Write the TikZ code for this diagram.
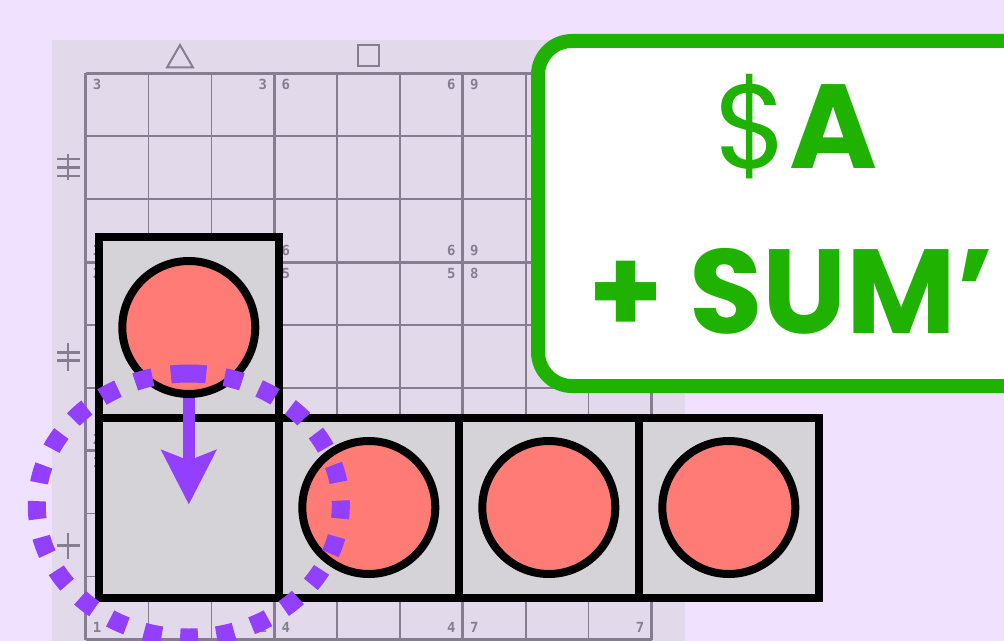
\documentclass[tikz,border=0pt]{standalone}
\usepackage{fontspec}
\setmainfont{Poppins}
\newfontfamily\digitfont{DejaVu Sans Mono}
\usepackage{tikz}
\usetikzlibrary{arrows.meta, positioning, shapes.geometric}

\definecolor{bgviolet}{HTML}{EFE1FF}
\definecolor{panelgray}{HTML}{E2DAEA}
\definecolor{gridgray}{HTML}{877D91}
\definecolor{boxgray}{HTML}{D5D3D7}
\definecolor{tokenred}{HTML}{FF7B76}
\definecolor{movepurple}{HTML}{923FFF}
\definecolor{sumgreen}{HTML}{1FB200}

\begin{document}
\begin{tikzpicture}[
    x=1bp, y=-1bp,
    >=Stealth,
    gridline/.style={draw=gridgray, line width=1.5bp},
    blockline/.style={draw=gridgray, line width=3bp},
    corner/.style={font=\digitfont\bfseries\fontsize{14}{14}\selectfont, text=gridgray, inner sep=0pt},
    colsym/.style={draw=gridgray, line width=2bp, inner sep=0pt},
    rowtick/.style={draw=gridgray, line width=2.5bp},
    cellbox/.style={draw=black, fill=boxgray, line width=8bp, minimum size=180bp, inner sep=0pt, outer sep=0pt},
    token/.style={circle, draw=black, fill=tokenred, line width=8bp, minimum size=133bp, inner sep=0pt},
    move/.style={-{Stealth[length=54bp, width=54bp, inset=10bp]}, draw=movepurple, line width=12bp},
    sweep/.style={draw=movepurple, line width=18bp, dash pattern=on 18bp off 18.5bp},
    callout/.style={draw=sumgreen, fill=white, line width=14bp, rounded corners=34bp, minimum width=540bp, minimum height=345bp, inner sep=0pt, outer sep=0pt},
    sumtext/.style={text=sumgreen, font=\fontsize{120}{120}\selectfont, inner sep=0pt},
  ]
  \useasboundingbox (0,0) rectangle (1004,641);
  \clip (0,0) rectangle (1004,641);
  \fill[bgviolet] (0,0) rectangle (1004,641);
  \fill[panelgray] (52,40) rectangle (685,675);
  % grid and block numbers
  \begin{scope}[shift={(85.5,73.3)}]
    \draw[gridline] (0,0) grid[step=62.9bp] (566.2,566.2);
    \draw[blockline] (0,0) grid[step=188.7bp] (566.2,566.2);
    \foreach \bx in {0,1,2} \foreach \by in {0,1,2} {
      \pgfmathtruncatemacro{\n}{3*\bx+3-\by}
      \pgfmathtruncatemacro{\hid}{and(\bx==2,\by<2)}
      \node[corner] (d\bx\by nw) at (188.7*\bx+11.5, 188.7*\by+11.5) {\n};
      \node[corner] (d\bx\by sw) at (188.7*\bx+11.5, 188.7*\by+177.2) {\n};
      \ifnum\hid=0
        \node[corner] (d\bx\by ne) at (188.7*\bx+177.2, 188.7*\by+11.5) {\n};
        \node[corner] (d\bx\by se) at (188.7*\bx+177.2, 188.7*\by+177.2) {\n};
      \fi
    }
  \end{scope}
  % column and row symbols
  \node[colsym, regular polygon, regular polygon sides=3, minimum size=30bp] (tri) at (180,60) {};
  \node[colsym, minimum size=21bp] (sq) at (368.5,55.5) {};
  \draw[rowtick] (68,154.5) -- (68,180.5) (57,159) -- (80,159) (57,167.5) -- (80,167.5) (57,176) -- (80,176);
  \draw[rowtick] (68,342.5) -- (68,370.5) (57,352.5) -- (80,352.5) (57,360.5) -- (80,360.5);
  \draw[rowtick] (68,532.5) -- (68,558.5) (57,545.5) -- (80,545.5);
  % callout
  \node[callout, anchor=north west] (sumbox) at (538,41) {};
  \node[sumtext, anchor=base] (dollarA) at (796,169) {\$\textbf{A}};
  \node[sumtext, anchor=base] (plusSum) at (791.5,333) {\textbf{+ SUM’}};
  % boxes and tokens
  \node[cellbox] (b1) at (188.8,327.5) {};
  \node[cellbox, below=0pt of b1] (b2) {};
  \node[cellbox, right=0pt of b2] (b3) {};
  \node[cellbox, right=0pt of b3] (b4) {};
  \node[cellbox, right=0pt of b4] (b5) {};
  \node[token] (t1) at (b1) {};
  \node[token] (t3) at (b3) {};
  \node[token] (t4) at (b4) {};
  \node[token] (t5) at (b5) {};
  \draw[move] (t1.south) -- ([yshift=3bp]b2.center);
  \coordinate (ringtop) at ([yshift=134bp]b2.center);
  \draw[sweep] (ringtop) arc[start angle=90, end angle=450, x radius=152bp, y radius=132bp];
\end{tikzpicture}
\end{document}
